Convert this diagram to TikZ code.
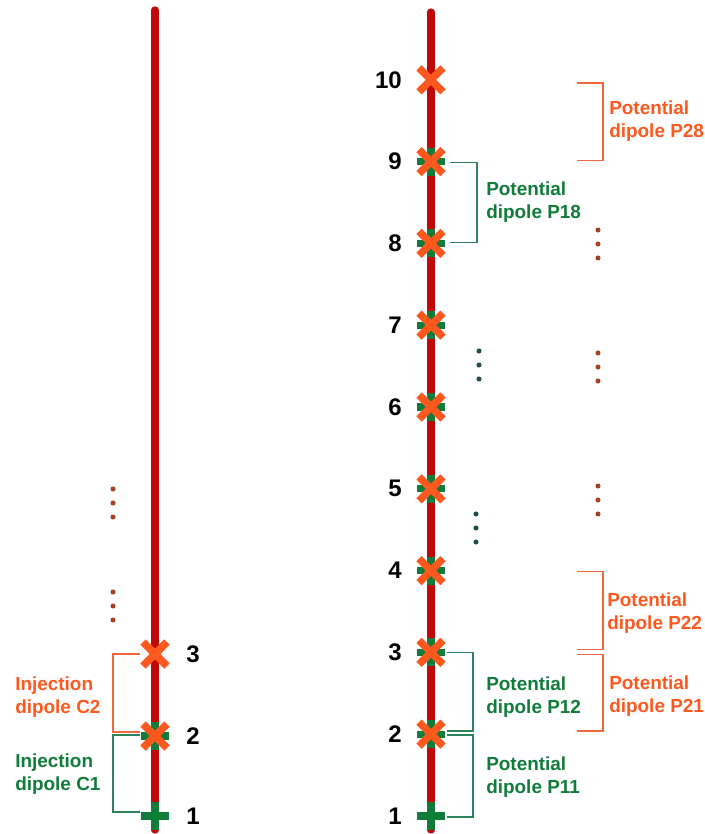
\documentclass[tikz,border=0pt]{standalone}
\usepackage{fontspec}
\setmainfont{Liberation Sans}
\usepackage{tikz}
\usetikzlibrary{calc}
\definecolor{rodred}{RGB}{192,8,8}
\definecolor{injgreen}{RGB}{16,124,58}
\definecolor{potorange}{RGB}{255,88,30}
\definecolor{brkorange}{RGB}{240,104,60}
\definecolor{brkgreen}{RGB}{44,130,90}
\definecolor{dotbrown}{RGB}{170,62,36}
\definecolor{dotteal}{RGB}{28,80,66}

\begin{document}
\begin{tikzpicture}[
  x=0.75pt, y=-0.75pt,
  rod/.style={line width=5.4pt, color=rodred, line cap=round},
  plusbar/.style={line width=5.4pt, color=injgreen},
  crossbar/.style={line width=5.6pt, color=potorange},
  num/.style={font=\fontsize{18}{20}\selectfont\bfseries, inner sep=0pt},
  olabel/.style={font=\fontsize{14.2}{17.2}\selectfont\bfseries, text=potorange,
    align=left, anchor=west, inner sep=0pt},
  glabel/.style={olabel, text=injgreen},
  obrk/.style={line width=1.1pt, color=brkorange},
  gbrk/.style={line width=1.1pt, color=brkgreen},
  vdot/.style={circle, inner sep=0pt, minimum size=3.8pt}
]
\useasboundingbox (0,0) rectangle (704,834);

% Rods
\draw[rod] (155,10) -- (155,830);
\draw[rod] (431,12) -- (431,830);

% Electrodes
\foreach \i in {1,...,10} {
  \coordinate (r\i) at (431,{816-81.8*(\i-1)});
}
\coordinate (l1) at (155,816);
\coordinate (l2) at (155,736);
\coordinate (l3) at (155,654);

% Injection markers (green)
\foreach \e in {r1,r2,r3,r4,r5,r6,r7,r8,r9,l1,l2} {
  \draw[plusbar] ($(\e)+(-14,0)$) -- ($(\e)+(14,0)$);
  \draw[plusbar] ($(\e)+(0,-14)$) -- ($(\e)+(0,14)$);
}
% Potential markers (orange)
\foreach \e in {r2,r3,r4,r5,r6,r7,r8,r9,r10,l2,l3} {
  \draw[crossbar] ($(\e)+(-12,-12)$) -- ($(\e)+(12,12)$);
  \draw[crossbar] ($(\e)+(-12,12)$) -- ($(\e)+(12,-12)$);
}

% Numbers
\foreach \i in {1,...,10} {
  \node[num, anchor=east] (n\i) at ($(r\i)+(-29,0)$) {\i};
}
\foreach \i in {1,2,3} {
  \node[num, anchor=west] (m\i) at ($(l\i)+(31,0)$) {\i};
}

% Injection dipoles
\draw[obrk] ($(l3)+(-15,0)$) -- ++(-27,0) |- ($(l2)+(-15,-4)$);
\draw[gbrk] ($(l2)+(-15,-1)$) -- ++(-27,0) |- ($(l1)+(-15,-4)$);
\node[olabel] (c2) at (15,697) {Injection\\dipole C2};
\node[glabel] (c1) at (15,774) {Injection\\dipole C1};

% Potential dipoles, first injection
\draw[gbrk] ($(r9)+(19,1)$) -- ++(27,0) |- ($(r8)+(19,-1)$);
\draw[gbrk] ($(r3)+(16,0)$) -- ++(26,0) |- ($(r2)+(16,-3)$);
\draw[gbrk] ($(r2)+(16,1)$) -- ++(26,0) |- ($(r1)+(16,1)$);
\node[glabel] (p18) at (486,202) {Potential\\dipole P18};
\node[glabel] (p12) at (486,697) {Potential\\dipole P12};
\node[glabel] (p11) at (486,777) {Potential\\dipole P11};

% Potential dipoles, second injection
\draw[obrk] ($(r10)+(146,3)$) -- ++(26,0) |- ($(r9)+(146,-1)$);
\draw[obrk] ($(r4)+(146,1)$) -- ++(26,0) |- ($(r3)+(146,-3)$);
\draw[obrk] ($(r3)+(146,2)$) -- ++(26,0) |- ($(r2)+(146,-3)$);
\node[olabel] (p28) at (609,121) {Potential\\dipole P28};
\node[olabel] (p22) at (607,613) {Potential\\dipole P22};
\node[olabel] (p21) at (609,696) {Potential\\dipole P21};

% Ellipses
\foreach \x/\y/\c in {113/489/dotbrown, 113/592/dotbrown,
  479/351/dotteal, 476/514/dotteal,
  598/230/dotbrown, 598/353/dotbrown, 598/486/dotbrown} {
  \foreach \k in {0,1,2} {
    \node[vdot, fill=\c] at (\x,{\y+14*\k}) {};
  }
}
\end{tikzpicture}
\end{document}
